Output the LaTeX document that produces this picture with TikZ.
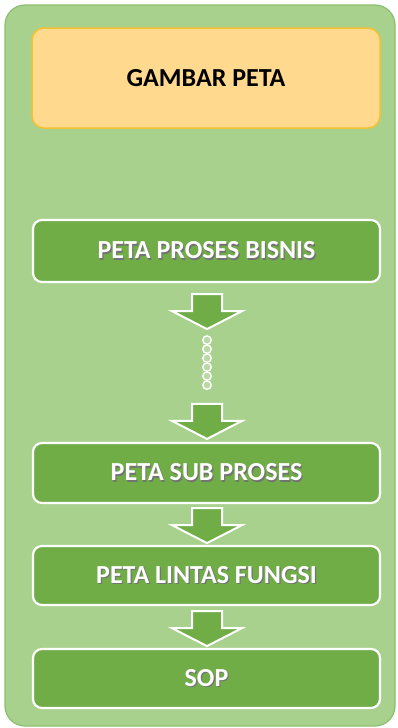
\documentclass[tikz,border=0pt]{standalone}
\usepackage{fontspec}
\setmainfont{Carlito}
\usetikzlibrary{calc}

\definecolor{panelfill}{HTML}{A9D18E}
\definecolor{paneledge}{HTML}{8CBF6C}
\definecolor{stepgreen}{HTML}{70AD47}
\definecolor{titlefill}{HTML}{FFD98E}
\definecolor{titleedge}{HTML}{F2C231}

% white label with a soft dark drop shadow
\newcommand{\shadowlabel}[1]{%
  \makebox[0pt][l]{\hspace{1.2pt}\raisebox{-1.2pt}{\textcolor{black!55}{#1}}}%
  \textcolor{white}{#1}}

\begin{document}
\begin{tikzpicture}[x=1pt,y=-1pt,
  panel/.style={fill=panelfill, draw=paneledge, line width=1.2pt, rounded corners=20pt},
  titlebox/.style={fill=titlefill, draw=titleedge, line width=1.5pt, rounded corners=12pt,
    minimum width=348pt, minimum height=100pt, inner sep=0pt,
    font=\bfseries\fontsize{26}{30}\selectfont, text=black},
  stepbox/.style={fill=stepgreen, draw=white, line width=2.2pt, rounded corners=9pt,
    minimum width=347pt, inner sep=0pt,
    font=\bfseries\fontsize{26}{30}\selectfont},
  blockarrow/.style={fill=stepgreen, draw=white, line width=2pt, line join=miter},
  linkdot/.style={circle, fill=panelfill!80!white, draw=white, line width=1.4pt,
    minimum size=8.5pt, inner sep=0pt},
  downarrow/.pic={
    \filldraw[blockarrow] (-15,-17) -- (15,-17) -- (15,0) -- (35,0) -- (0,18)
      -- (-35,0) -- (-15,0) -- cycle;}
]
  \useasboundingbox (0,0) rectangle (397,728);

  % outer panel
  \path[panel] (5,5) rectangle (395,726);

  % title
  \node[titlebox] (title) at (206,78) {GAMBAR PETA};

  % steps
  \node[stepbox, minimum height=62pt] (bisnis) at (206.5,251) {\shadowlabel{PETA PROSES BISNIS}};
  \node[stepbox, minimum height=60pt] (sub)    at (206.5,473) {\shadowlabel{PETA SUB PROSES}};
  \node[stepbox, minimum height=59pt] (lintas) at (206.5,575.5) {\shadowlabel{PETA LINTAS FUNGSI}};
  \node[stepbox, minimum height=59pt] (sop)    at (206.5,678.5) {\shadowlabel{SOP}};

  % block arrows
  \coordinate (a1) at ($(bisnis.south)+(0.5,28)$);
  \coordinate (a2) at ($(sub.north)+(0.5,-21)$);
  \coordinate (a3) at ($(sub.south)+(0.5,21)$);
  \coordinate (a4) at ($(lintas.south)+(0.5,22)$);
  \foreach \a in {a1,a2,a3,a4} \pic at (\a) {downarrow};

  % chain of small rings between the first two arrows
  \foreach \i in {0,...,5}
    \node[linkdot] (dot\i) at ($(a1)+(0,29+9*\i)$) {};
\end{tikzpicture}
\end{document}
